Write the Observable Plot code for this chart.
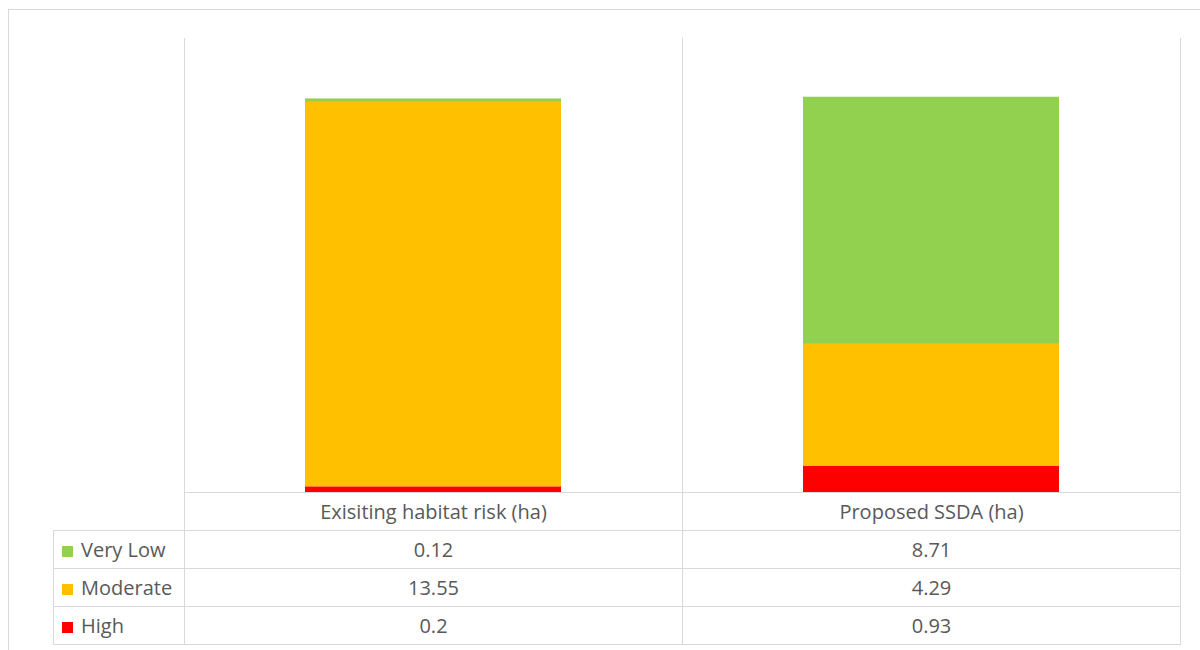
<!DOCTYPE html>
<html>
<head>
<meta charset="utf-8">
<script src="https://cdn.jsdelivr.net/npm/d3@7"></script>
<script src="https://cdn.jsdelivr.net/npm/@observablehq/plot@0.6"></script>
<style>
  html, body { margin: 0; padding: 0; background: #fff; overflow: hidden; }
  #chart { position: relative; width: 1200px; height: 650px; overflow: hidden; font-family: "Open Sans", "Noto Sans", sans-serif; }
  #outer { position: absolute; left: 8px; top: 9px; width: 1400px; height: 800px; border: 1px solid #d9d9d9; box-sizing: border-box; }
  #grid { position: absolute; left: 53px; top: 38px; border-collapse: collapse; table-layout: fixed; }
  #grid td { border: 1px solid #d9d9d9; padding: 0; text-align: center; color: #595959; font-size: 20px; height: 37px; line-height: 37px; white-space: nowrap; }
  #grid td.blank { border: none; }
  #grid tr.plotrow td { border-top: none; height: 454px; }
  #grid td.leg { text-align: left; padding-left: 8px; }
  .sw { display: inline-block; width: 11px; height: 11px; margin-right: 8px; vertical-align: 0px; }
  #plot { position: absolute; left: 0; top: 0; }
</style>
</head>
<body>
<div id="chart">
  <div id="outer"></div>
  <table id="grid"></table>
  <div id="plot"></div>
</div>
<script>
const categories = ["Exisiting habitat risk (ha)", "Proposed SSDA (ha)"];
const seriesNames = ["Very Low", "Moderate", "High"];
const veryLow = [0.12, 8.71];
const moderate = [13.55, 4.29];
const high = [0.2, 0.93];
const seriesColors = ["#92D050", "#FFC000", "#FF0000"];

const valuesBySeries = {"Very Low": veryLow, "Moderate": moderate, "High": high};

// stacked bottom-up: High, Moderate, Very Low
const stackOrder = ["High", "Moderate", "Very Low"];
const rows = [];
categories.forEach((c, i) => {
  stackOrder.forEach(s => rows.push({category: c, series: s, value: valuesBySeries[s][i]}));
});

const chart = Plot.plot({
  width: 1200,
  height: 492,
  marginLeft: 184,
  marginRight: 20,
  marginTop: 38,
  marginBottom: 0,
  x: {domain: categories, paddingInner: 0.486, paddingOuter: 0.243, axis: null},
  y: {domain: [0, 16], axis: null},
  color: {domain: seriesNames, range: seriesColors},
  style: {background: "transparent", overflow: "visible"},
  marks: [
    Plot.barY(rows, {x: "category", y: "value", fill: "series", order: stackOrder})
  ]
});
document.getElementById("plot").appendChild(chart);

// data table below the plot (with the grid lines)
const table = document.getElementById("grid");
const cg = document.createElement("colgroup");
[131, 498, 498].forEach(w => { const c = document.createElement("col"); c.style.width = w + "px"; cg.appendChild(c); });
table.appendChild(cg);

const plotRow = table.insertRow();
plotRow.className = "plotrow";
plotRow.insertCell().className = "blank";
categories.forEach(() => plotRow.insertCell());

const catRow = table.insertRow();
catRow.insertCell().className = "blank";
categories.forEach(c => { catRow.insertCell().textContent = c; });

seriesNames.forEach((s, si) => {
  const tr = table.insertRow();
  const lc = tr.insertCell();
  lc.className = "leg";
  const sw = document.createElement("span");
  sw.className = "sw";
  sw.style.background = seriesColors[si];
  lc.appendChild(sw);
  lc.appendChild(document.createTextNode(s));
  valuesBySeries[s].forEach(v => { tr.insertCell().textContent = String(v); });
});
</script>
</body>
</html>
